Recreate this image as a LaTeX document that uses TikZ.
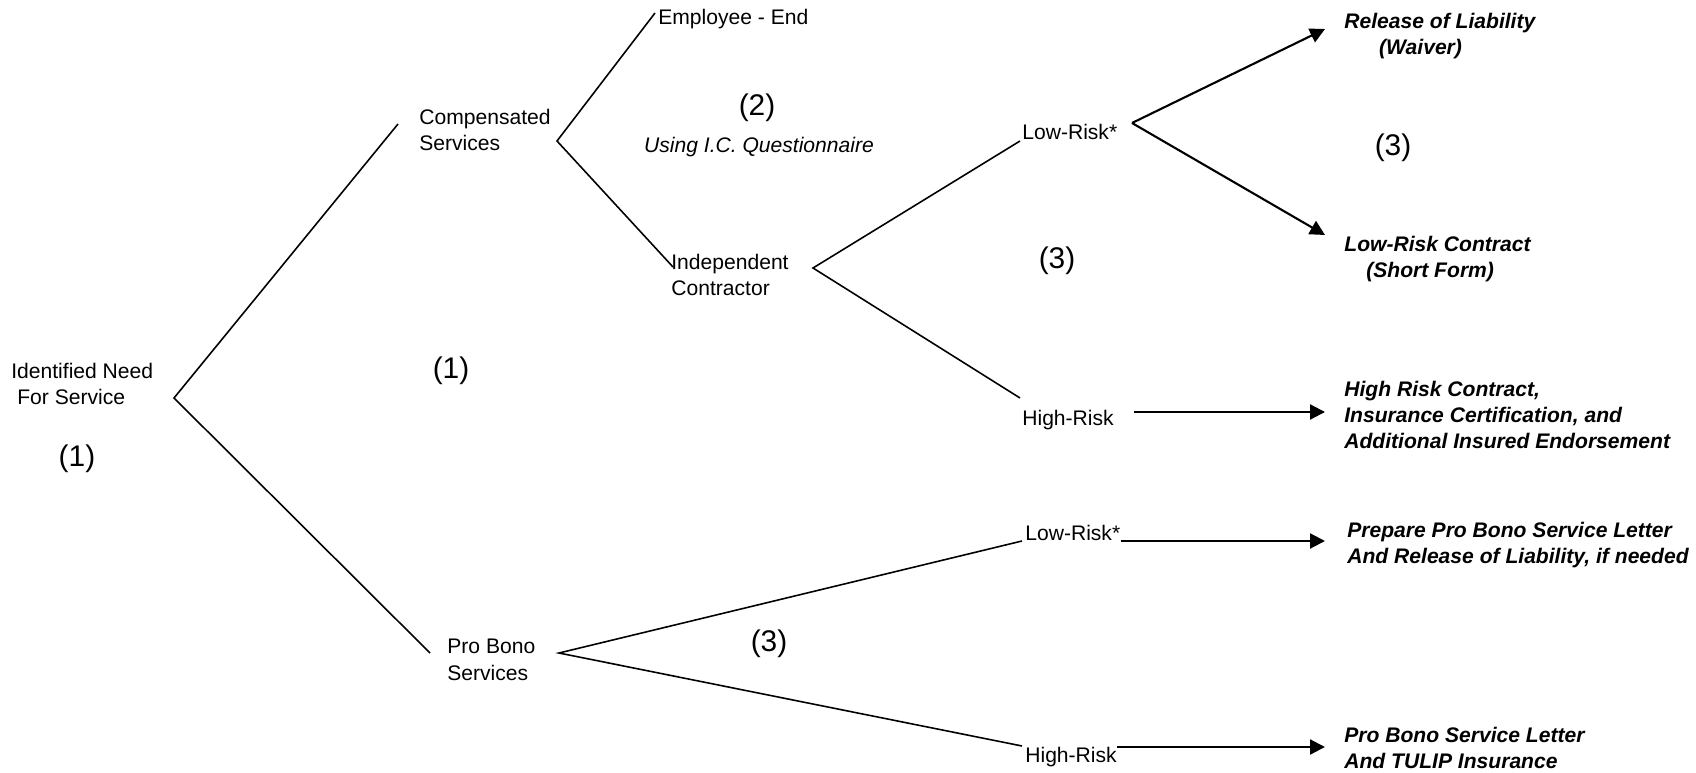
\documentclass[tikz,border=0pt]{standalone}
\usepackage{fontspec}
\setmainfont{Liberation Sans}
\usetikzlibrary{arrows.meta}

\begin{document}
\begin{tikzpicture}[
    x=0.02cm, y=-0.02cm,
    every node/.style={anchor=west, inner sep=0pt, align=left, font=\fontsize{12}{15}\selectfont},
    leaf/.style={font=\fontsize{12}{15}\selectfont\bfseries\itshape},
    num/.style={anchor=center, font=\fontsize{17}{20}\selectfont},
    branch/.style={line width=0.9pt},
    arr/.style={line width=1.2pt, -{Triangle[length=8.5pt,width=8.5pt]}},
  ]
  \useasboundingbox (0,0) rectangle (1696,773);

  \node (need) at (11,384) {Identified Need\\\hspace{3.4pt}For Service};
  \node (comp) at (419,130) {Compensated\\Services};
  \node (empl) at (658,19.5) {Employee - End};
  \node (ic) at (671,275) {Independent\\Contractor};
  \node (icLow) at (1022,132) {Low-Risk*};
  \node (icHigh) at (1022,420) {High-Risk};
  \node (pb) at (447,660) {Pro Bono\\Services};
  \node (pbLow) at (1025,533) {Low-Risk*};
  \node (pbHigh) at (1025,757) {High-Risk};

  \node[leaf] (waiver) at (1344,36) {Release of Liability\\\hspace{19.8pt}(Waiver)};
  \node[leaf] (short) at (1344,259) {Low-Risk Contract\\\hspace{12.5pt}(Short Form)};
  \node[leaf] (hiContract) at (1344,415) {High Risk Contract,\\Insurance Certification, and\\Additional Insured Endorsement};
  \node[leaf] (pbLetter) at (1347,545) {Prepare Pro Bono Service Letter\\And Release of Liability, if needed};
  \node[leaf] (tulip) at (1344,748) {Pro Bono Service Letter\\And TULIP Insurance};

  \node[num] (stepA) at (77,459) {(1)};
  \node[num] (stepB) at (451,371) {(1)};
  \node[num] (stepC) at (757,108) {(2)};
  \node[anchor=center, font=\fontsize{12}{15}\selectfont\itshape] (quest) at (759,147) {Using I.C. Questionnaire};
  \node[num] (stepD) at (1057,261) {(3)};
  \node[num] (stepE) at (1393,148) {(3)};
  \node[num] (stepF) at (769,644) {(3)};

  \coordinate (rootApex) at (174,398);
  \coordinate (compEnd) at (398,124);
  \coordinate (pbEnd) at (430,653);
  \coordinate (compApex) at (557,141);
  \coordinate (emplEnd) at (655,13);
  \coordinate (icEnd) at (673,267);
  \coordinate (icApex) at (813,268);
  \coordinate (icLowEnd) at (1020,141);
  \coordinate (icHighEnd) at (1020,398);
  \coordinate (lowApex) at (1132,123);
  \coordinate (waiverTip) at (1325,29);
  \coordinate (shortTip) at (1325,235);
  \coordinate (hiStart) at (1134,412);
  \coordinate (hiTip) at (1325,412);
  \coordinate (pbApex) at (559,653);
  \coordinate (pbLowEnd) at (1022,541);
  \coordinate (pbHighEnd) at (1022,746);
  \coordinate (pbLowTip) at (1325,541);
  \coordinate (pbHighTip) at (1325,747);

  \draw[branch] (compEnd) -- (rootApex) -- (pbEnd);
  \draw[branch] (emplEnd) -- (compApex) -- (icEnd);
  \draw[branch] (icLowEnd) -- (icApex) -- (icHighEnd);
  \draw[branch] (pbLowEnd) -- (pbApex) -- (pbHighEnd);

  \draw[arr] (lowApex) -- (waiverTip);
  \draw[arr] (lowApex) -- (shortTip);
  \draw[arr] (hiStart) -- (hiTip);
  \draw[arr] (pbLow.east |- pbLowTip) -- (pbLowTip);
  \draw[arr] (pbHigh.east |- pbHighTip) -- (pbHighTip);
\end{tikzpicture}
\end{document}
